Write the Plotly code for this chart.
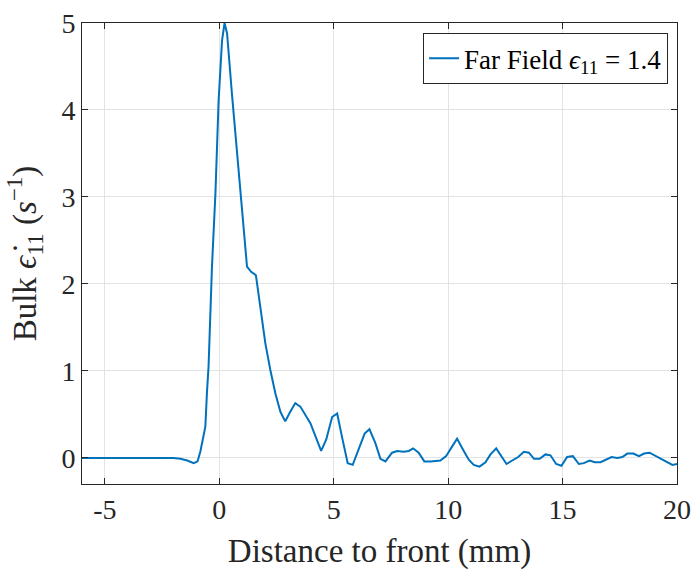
import plotly.graph_objects as go

distance_mm = [-6, -4, -2.5, -2.0, -1.7, -1.4, -1.12, -0.95, -0.83, -0.76, -0.61, -0.54,
               -0.47, -0.32, -0.17, -0.03, 0.12, 0.23, 0.34, 0.55, 0.77, 1.06, 1.21, 1.39,
               1.6, 1.79, 2.01, 2.23, 2.45, 2.67, 2.88, 3.1, 3.32, 3.54, 3.98, 4.45, 4.67,
               4.93, 5.15, 5.37, 5.61, 5.83, 6.1, 6.35, 6.56, 6.82, 7.04, 7.26, 7.55, 7.77,
               8.06, 8.28, 8.47, 8.71, 8.96, 9.23, 9.66, 9.91, 10.17, 10.39, 10.64, 10.9,
               11.12, 11.37, 11.63, 11.85, 12.1, 12.32, 12.55, 12.8, 13.06, 13.31, 13.53,
               13.75, 14.0, 14.25, 14.47, 14.72, 14.95, 15.2, 15.45, 15.71, 15.93, 16.18,
               16.41, 16.66, 16.91, 17.14, 17.39, 17.61, 17.83, 18.09, 18.34, 18.56, 18.8,
               19.07, 19.33, 19.58, 19.8, 20.0]

strain_rate = [0, 0, 0, 0, -0.01, -0.03, -0.06, -0.04, 0.07, 0.17, 0.36, 0.75,
               1.05, 2.2, 3.04, 4.11, 4.8, 5.0, 4.88, 4.19, 3.54, 2.66, 2.2, 2.14,
               2.1, 1.74, 1.32, 1.01, 0.74, 0.53, 0.42, 0.53, 0.63, 0.59, 0.40, 0.08, 0.21,
               0.47, 0.51, 0.23, -0.06, -0.08, 0.10, 0.28, 0.33, 0.17, -0.01, -0.04, 0.06, 0.08,
               0.07, 0.08, 0.11, 0.06, -0.04, -0.04, -0.03, 0.02, 0.13, 0.22, 0.10, -0.02,
               -0.08, -0.10, -0.05, 0.04, 0.11, 0.02, -0.07, -0.03, 0.01, 0.07, 0.06,
               -0.01, -0.01, 0.04, 0.03, -0.07, -0.09, 0.01, 0.02, -0.07, -0.06, -0.03,
               -0.05, -0.05, -0.02, 0.01, 0.0, 0.01, 0.05, 0.05, 0.02, 0.05, 0.06,
               0.02, -0.02, -0.05, -0.08, -0.07]

assert len(distance_mm) == len(strain_rate)

x_ticks = [-5, 0, 5, 10, 15, 20]
x_tick_labels = ["-5", "0", "5", "10", "15", "20"]
y_ticks = [0, 1, 2, 3, 4, 5]
y_tick_labels = ["0", "1", "2", "3", "4", "5"]

FONT = "Liberation Serif, Times New Roman, serif"
AXC = "#262626"
GRID = "#e3e3e3"

fig = go.Figure()
fig.add_trace(go.Scatter(
    x=distance_mm, y=strain_rate, mode="lines",
    line=dict(color="#0072BD", width=2),
    name="Far Field <i>ϵ</i><sub>11</sub> = 1.4",
))

axis_common = dict(
    showline=True, linecolor=AXC, linewidth=1, mirror="ticks",
    ticks="inside", ticklen=6, tickcolor=AXC, tickwidth=1,
    showgrid=True, gridcolor=GRID, gridwidth=1, zeroline=False,
    tickfont=dict(family=FONT, size=28, color=AXC),
    automargin=False, ticklabeloverflow="allow",
)

fig.update_layout(
    width=694, height=573,
    margin=dict(l=82, r=17, t=23, b=89, autoexpand=False),
    paper_bgcolor="white", plot_bgcolor="white",
    font=dict(family=FONT, color=AXC),
    xaxis=dict(range=[-6, 20], tickvals=x_ticks, ticktext=x_tick_labels,
               title=dict(text="Distance to front (mm)", font=dict(family=FONT, size=33, color=AXC)),
               **axis_common),
    yaxis=dict(range=[-0.3, 5], tickvals=y_ticks, ticktext=y_tick_labels,
               title=dict(text="Bulk <i>ϵ̇</i><sub>11</sub> (<i>s</i><sup>−1</sup>)", font=dict(family=FONT, size=33, color=AXC),
                          standoff=14),
               **axis_common),
    legend=dict(x=0.985, y=0.978, xanchor="right", yanchor="top",
                bgcolor="white", bordercolor=AXC, borderwidth=1,
                font=dict(family=FONT, size=27, color="black"),
                itemwidth=30, tracegroupgap=0),
    showlegend=True,
)

# remove the browser's default 8px body margin so the figure sits at the page origin
fig.write_html("out.html",
               config={"displayModeBar": False},
               post_script="document.body.style.margin='0';document.body.style.overflow='hidden';")
